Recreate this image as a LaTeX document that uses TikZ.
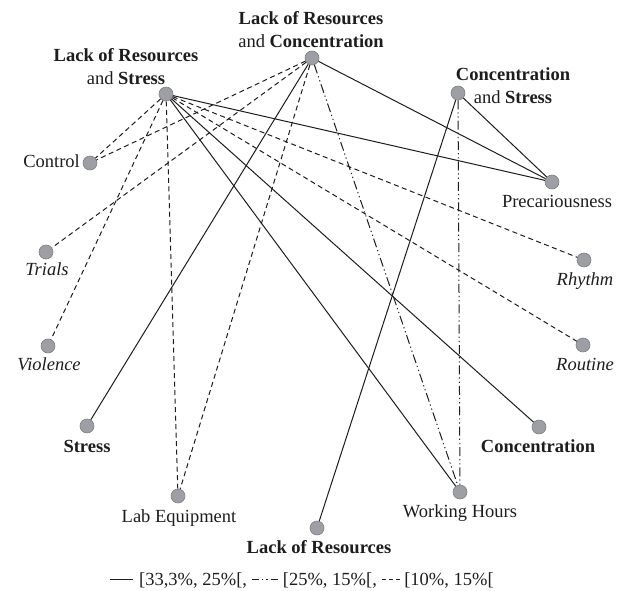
\documentclass[tikz,border=0pt]{standalone}
\usepackage{fontspec}
\setmainfont{Liberation Serif}
\usetikzlibrary{calc}
\definecolor{dotfill}{RGB}{158,159,164}
\definecolor{dotedge}{RGB}{128,129,134}
\definecolor{ink}{RGB}{30,28,29}
\tikzset{
 dot/.style={circle, fill=dotfill, draw=dotedge, line width=0.6pt, minimum size=14pt, inner sep=0pt},
 lbl/.style={font=\fontsize{18.5}{23}\selectfont, text=ink, inner sep=0pt},
 strong/.style={line width=1pt, draw=ink},
 mid/.style={line width=1pt, draw=ink, dash pattern=on 9pt off 3pt on 1.2pt off 3pt on 1.2pt off 3pt},
 midleg/.style={line width=1pt, draw=ink, dash pattern=on 7pt off 3pt on 1.2pt off 3pt on 1.2pt off 3pt},
 weak/.style={line width=1pt, draw=ink, dash pattern=on 5pt off 3.5pt},
 weakleg/.style={line width=1pt, draw=ink, dash pattern=on 4pt off 3pt},
}
\begin{document}
\begin{tikzpicture}[x=1pt,y=-1pt]
\useasboundingbox (0,0) rectangle (630,591);
% dots
\node[dot] (lrs) at (166,94) {};
\node[dot] (lrc) at (312,58) {};
\node[dot] (cs) at (458,93) {};
\node[dot] (ctl) at (90,163) {};
\node[dot] (tri) at (46,252) {};
\node[dot] (vio) at (48,346) {};
\node[dot] (str) at (87,426) {};
\node[dot] (lab) at (178,496) {};
\node[dot] (lor) at (317,528) {};
\node[dot] (wh) at (460,492) {};
\node[dot] (con) at (539,427) {};
\node[dot] (rou) at (583,345) {};
\node[dot] (rhy) at (584,260) {};
\node[dot] (pre) at (552,182) {};
% labels
\node[lbl, align=center] (lrsL) at (126,67) {\textbf{Lack of Resources}\\and \textbf{Stress}};
\node[lbl, align=center] (lrcL) at (311,30) {\textbf{Lack of Resources}\\and \textbf{Concentration}};
\node[lbl, align=center] (csL) at (513,86) {\textbf{Concentration}\\and \textbf{Stress}};
\node[lbl, anchor=base east] (ctlL) at (80,168) {Control};
\node[lbl, anchor=base] (triL) at (47,276) {\textit{Trials}};
\node[lbl, anchor=base] (vioL) at (49,370) {\textit{Violence}};
\node[lbl, anchor=base] (strL) at (87,452) {\textbf{Stress}};
\node[lbl, anchor=base] (labL) at (179,522) {Lab Equipment};
\node[lbl, anchor=base] (lorL) at (319,553) {\textbf{Lack of Resources}};
\node[lbl, anchor=base] (whL) at (460,517) {Working Hours};
\node[lbl, anchor=base] (conL) at (538,452) {\textbf{Concentration}};
\node[lbl, anchor=base] (rouL) at (585,370) {\textit{Routine}};
\node[lbl, anchor=base] (rhyL) at (585,285) {\textit{Rhythm}};
\node[lbl, anchor=base] (preL) at (557,208) {Precariousness};
% edges: strong
\draw[strong] (lrs) -- (pre);
\draw[strong] (lrs) -- (con);
\draw[strong] (lrs) -- (wh);
\draw[strong] (lrc) -- (str);
\draw[strong] (lrc) -- (pre);
\draw[strong] (cs) -- (pre);
\draw[strong] (cs) -- (lor);
% edges: mid
\draw[mid] (lrc) -- (wh);
\draw[mid] (cs) -- (wh);
% edges: weak
\draw[weak] (lrs) -- (ctl);
\draw[weak] (lrs) -- (vio);
\draw[weak] (lrs) -- (lab);
\draw[weak] (lrs) -- (rhy);
\draw[weak] (lrs) -- (rou);
\draw[weak] (lrc) -- (ctl);
\draw[weak] (lrc) -- (tri);
\draw[weak] (lrc) -- (lab);
% legend
\coordinate (s1a) at (110,579);
\coordinate (s1b) at (133,579);
\draw[strong] (s1a) -- (s1b);
\node[lbl, anchor=base west] (t1) at (139,585) {[33,3\%, 25\%[,};
\coordinate (s2a) at ($(t1.base east)+(5,-6)$);
\coordinate (s2b) at ($(s2a)+(25.4,0)$);
\draw[midleg] (s2a) -- (s2b);
\node[lbl, anchor=base west] (t2) at ($(s2b)+(5,6)$) {[25\%, 15\%[,};
\coordinate (s3a) at ($(t2.base east)+(5,-6)$);
\coordinate (s3b) at ($(s3a)+(18,0)$);
\draw[weakleg] (s3a) -- (s3b);
\node[lbl, anchor=base west] (t3) at ($(s3b)+(4,6)$) {[10\%, 15\%[};
\end{tikzpicture}
\end{document}
